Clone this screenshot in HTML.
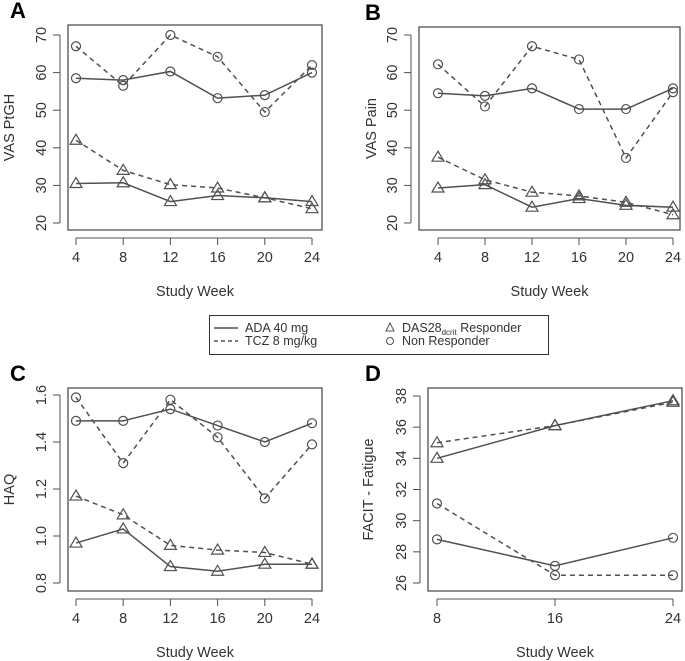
<!DOCTYPE html>
<html><head><meta charset="utf-8"><style>
body{margin:0;background:#fff;}
svg{display:block;font-family:"Liberation Sans",Arial,sans-serif;}
</style></head><body>
<svg id="c" width="685" height="661" viewBox="0 0 685 661" xmlns="http://www.w3.org/2000/svg"></svg>
<script>
const weeksABC = [4, 8, 12, 16, 20, 24];
const weeksD = [8, 16, 24];
const aAdaNR = [58.5, 58, 60.3, 53.2, 54, 60];
const aTczNR = [67, 56.5, 70, 64.2, 49.5, 62];
const aAdaR = [30.5, 30.7, 25.7, 27.3, 26.7, 25.7];
const aTczR = [42, 34, 30.2, 29.3, 26.7, 23.8];
const bAdaNR = [54.5, 53.8, 55.8, 50.3, 50.3, 55.8];
const bTczNR = [62.2, 51, 67, 63.5, 37.3, 54.8];
const bAdaR = [29.3, 30.2, 24.2, 26.5, 24.7, 24.2];
const bTczR = [37.5, 31.5, 28.2, 27.2, 25.5, 22.2];
const cAdaNR = [1.49, 1.49, 1.54, 1.47, 1.40, 1.48];
const cTczNR = [1.59, 1.31, 1.58, 1.42, 1.16, 1.39];
const cAdaR = [0.97, 1.03, 0.87, 0.85, 0.88, 0.88];
const cTczR = [1.17, 1.09, 0.96, 0.94, 0.93, 0.88];
const dAdaR = [34, 36.1, 37.7];
const dTczR = [35, 36.1, 37.6];
const dAdaNR = [28.8, 27.1, 28.9];
const dTczNR = [31.1, 26.5, 26.5];
const yTicksAB = [20, 30, 40, 50, 60, 70];
const yTicksC = ["0.8", "1.0", "1.2", "1.4", "1.6"];
const yTicksD = [26, 28, 30, 32, 34, 36, 38];

const svg = document.getElementById('c');
const NS = 'http://www.w3.org/2000/svg';
const COL = '#505050';
function mk(tag, attrs, parent) {
  const e = document.createElementNS(NS, tag);
  for (const k in attrs) e.setAttribute(k, attrs[k]);
  (parent || svg).appendChild(e);
  return e;
}
function panel(p) {
  const g = mk('g', {});
  
  
  const sx = v => p.x0 + (v - p.xd[0]) / (p.xd[1] - p.xd[0]) * (p.x1 - p.x0);
  const sy = v => p.y0 + (v - p.yd[0]) / (p.yd[1] - p.yd[0]) * (p.y1 - p.y0);
  const box = mk('rect', {x: p.bx0, y: p.by0, width: p.bx1 - p.bx0, height: p.by1 - p.by0, fill: 'none', stroke: COL, 'stroke-width': 1.3}, g);
  
  
  const lt = mk('text', {x: p.lx, y: p.by0 - 7, 'font-size': 22, 'font-weight': 'bold', fill: '#000'}, g);
  lt.textContent = p.id.toUpperCase();
  
  
  mk('line', {x1: sx(p.xs[0]), x2: sx(p.xs[p.xs.length - 1]), y1: p.by1 + 8, y2: p.by1 + 8, stroke: COL}, g);
  p.xs.forEach(v => {
    mk('line', {x1: sx(v), x2: sx(v), y1: p.by1 + 8, y2: p.by1 + 15, stroke: COL}, g);
    const t = mk('text', {x: sx(v), y: p.by1 + 32, 'font-size': 14.5, 'text-anchor': 'middle', fill: '#333'}, g);
    t.textContent = v;
    
    
  });
  const xt = mk('text', {x: (p.bx0 + p.bx1) / 2, y: p.by1 + 66, 'font-size': 14.5, 'text-anchor': 'middle', fill: '#333'}, g);
  xt.textContent = 'Study Week';
  
  
  const ys = p.ys.map(Number);
  mk('line', {x1: p.bx0 - 8, x2: p.bx0 - 8, y1: sy(ys[0]), y2: sy(ys[ys.length - 1]), stroke: COL}, g);
  p.ys.forEach(v => {
    const y = sy(Number(v));
    mk('line', {x1: p.bx0 - 15, x2: p.bx0 - 8, y1: y, y2: y, stroke: COL}, g);
    const tx = p.bx0 - 22;
    const t = mk('text', {x: tx, y: y, 'font-size': 14.5, 'text-anchor': 'middle', fill: '#333', transform: `rotate(-90 ${tx} ${y})`}, g);
    t.textContent = v;
    
    
  });
  const yc = (p.by0 + p.by1) / 2;
  const yt = mk('text', {x: p.ylx, y: yc, 'font-size': 14.5, 'text-anchor': 'middle', fill: '#333', transform: `rotate(-90 ${p.ylx} ${yc})`}, g);
  yt.textContent = p.ylabel;
  
  
  p.series.forEach(s => {
    const pts = s.v.map((v, i) => [sx(p.xs[i]), sy(v)]);
    const pl = mk('polyline', {points: pts.map(q => q.join(',')).join(' '), fill: 'none', stroke: COL, 'stroke-width': 1.5, 'stroke-dasharray': s.dash ? '5,4' : 'none'}, g);
    
    
    pts.forEach(q => {
      let m;
      if (s.tri) m = mk('polygon', {points: `${q[0]},${q[1] - 6} ${q[0] - 6},${q[1] + 4} ${q[0] + 6},${q[1] + 4}`, fill: 'none', stroke: COL, 'stroke-width': 1.2}, g);
      else m = mk('circle', {cx: q[0], cy: q[1], r: 4.5, fill: 'none', stroke: COL, 'stroke-width': 1.2}, g);
      
      
    });
  });
}
panel({id: 'a', lx: 10, bx0: 68, bx1: 322, by0: 25, by1: 230, x0: 76, x1: 312, xd: [4, 24], y0: 223, y1: 35, yd: [20, 70], xs: weeksABC, ys: yTicksAB, ylx: 14, ylabel: 'VAS PtGH',
  series: [{v: aAdaNR, name: 'ada-nonresponder'}, {v: aTczNR, dash: 1, name: 'tcz-nonresponder'}, {v: aAdaR, tri: 1, name: 'ada-responder'}, {v: aTczR, tri: 1, dash: 1, name: 'tcz-responder'}]});
panel({id: 'b', lx: 365, bx0: 419, bx1: 680, by0: 27, by1: 230, x0: 438, x1: 673, xd: [4, 24], y0: 223, y1: 35, yd: [20, 70], xs: weeksABC, ys: yTicksAB, ylx: 376, ylabel: 'VAS Pain',
  series: [{v: bAdaNR, name: 'ada-nonresponder'}, {v: bTczNR, dash: 1, name: 'tcz-nonresponder'}, {v: bAdaR, tri: 1, name: 'ada-responder'}, {v: bTczR, tri: 1, dash: 1, name: 'tcz-responder'}]});
panel({id: 'c', lx: 10, bx0: 68, bx1: 322, by0: 388, by1: 591, x0: 76, x1: 312, xd: [4, 24], y0: 583, y1: 395, yd: [0.8, 1.6], xs: weeksABC, ys: yTicksC, ylx: 14, ylabel: 'HAQ',
  series: [{v: cAdaNR, name: 'ada-nonresponder'}, {v: cTczNR, dash: 1, name: 'tcz-nonresponder'}, {v: cAdaR, tri: 1, name: 'ada-responder'}, {v: cTczR, tri: 1, dash: 1, name: 'tcz-responder'}]});
panel({id: 'd', lx: 365, bx0: 428, bx1: 682, by0: 388, by1: 591, x0: 437, x1: 673, xd: [8, 24], y0: 583, y1: 396, yd: [26, 38], xs: weeksD, ys: yTicksD, ylx: 373, ylabel: 'FACIT - Fatigue',
  series: [{v: dAdaNR, name: 'ada-nonresponder'}, {v: dTczNR, dash: 1, name: 'tcz-nonresponder'}, {v: dAdaR, tri: 1, name: 'ada-responder'}, {v: dTczR, tri: 1, dash: 1, name: 'tcz-responder'}]});
</script>
<svg style="position:absolute;left:0;top:0" width="685" height="661">
  <rect x="209.5" y="315.5" width="339" height="39" fill="#fff" stroke="#333" stroke-width="1"/>
  <g>
    <line x1="214" x2="238" y1="328" y2="328" stroke="#505050" stroke-width="1.4"/>
    <text x="245" y="332" font-size="12.5" fill="#333" font-family="Liberation Sans, sans-serif">ADA 40 mg</text>
  </g>
  <g>
    <line x1="214" x2="238" y1="341" y2="341" stroke="#505050" stroke-width="1.4" stroke-dasharray="4,3"/>
    <text x="245" y="345" font-size="12.5" fill="#333" font-family="Liberation Sans, sans-serif">TCZ 8 mg/kg</text>
  </g>
  <g>
    <polygon points="390,323 386,331 394,331" fill="none" stroke="#505050"/>
    <text x="402" y="332" font-size="12.5" fill="#333" font-family="Liberation Sans, sans-serif">DAS28<tspan font-size="8" dy="3">dcrit</tspan><tspan dy="-3"> Responder</tspan></text>
  </g>
  <g>
    <circle cx="390" cy="341" r="3.5" fill="none" stroke="#505050"/>
    <text x="402" y="345" font-size="12.5" fill="#333" font-family="Liberation Sans, sans-serif">Non Responder</text>
  </g>
</svg>
</body></html>
